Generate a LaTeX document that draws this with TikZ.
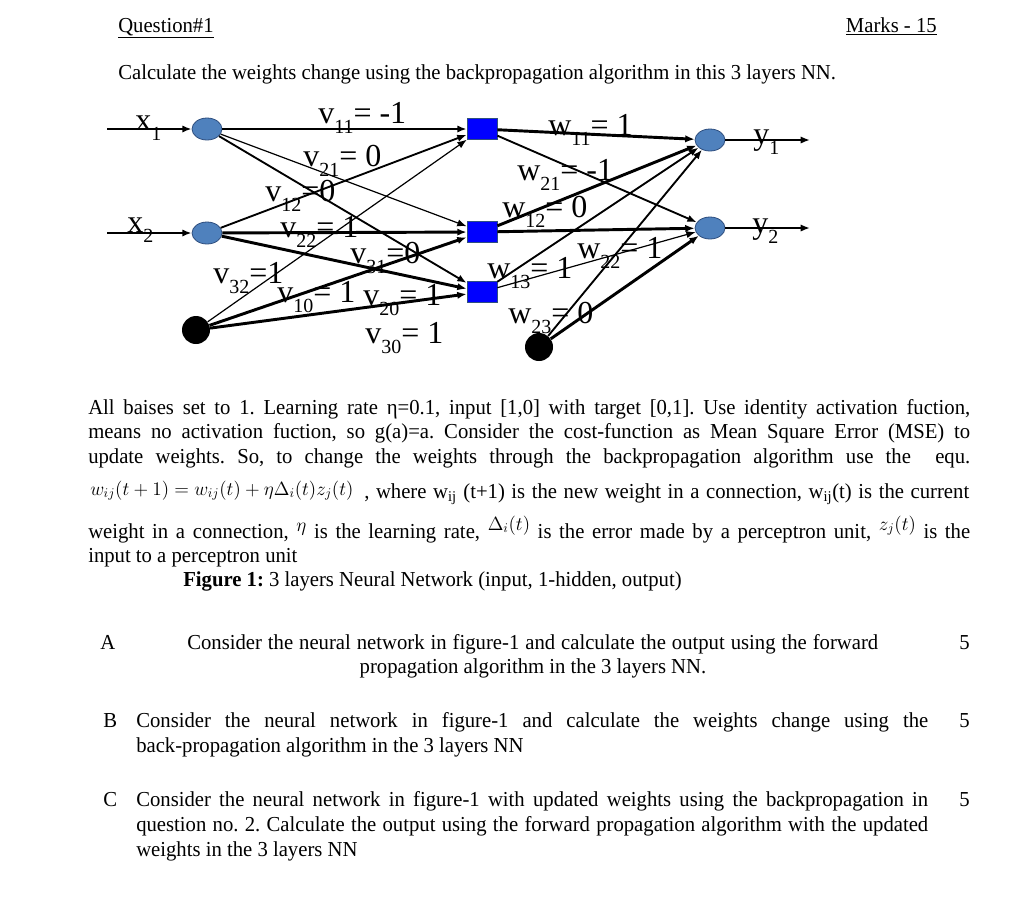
\documentclass[tikz,border=0pt]{standalone}
\usepackage{fontspec}
\setmainfont{Liberation Serif}[FakeStretch=0.97]
\newfontfamily\labfont{Liberation Serif}
\usetikzlibrary{shapes.geometric, arrows.meta}
\frenchspacing

\definecolor{unitblue}{HTML}{4F81BD}
\definecolor{unitedge}{HTML}{2F4F7F}

\newcommand{\sbs}[1]{\raisebox{-7.5pt}{\fontsize{15}{15}\selectfont #1}}
\newcommand{\jl}[2]{\makebox[#1][s]{#2}}

\tikzset{
  inunit/.style={ellipse, draw=unitedge, line width=0.6pt, fill=unitblue,
    minimum width=22.5pt, minimum height=16.5pt, inner sep=0pt},
  hidunit/.style={rectangle, draw=unitedge, line width=0.6pt, fill=blue,
    minimum width=22.5pt, minimum height=15.5pt, inner sep=0pt},
  biasunit/.style={circle, fill=black, minimum size=21pt, inner sep=0pt},
  conn/.style={-{Latex[length=7pt,width=5.5pt]}, line width=1.4pt},
  bold conn/.style={conn, line width=2.2pt},
  thin conn/.style={conn, line width=0.9pt},
  wlab/.style={font=\labfont\fontsize{24}{24}\selectfont, inner sep=0pt, anchor=base west},
  txt/.style={font=\fontsize{16}{19}\selectfont, inner sep=0pt, anchor=base west},
}

\begin{document}
\begin{tikzpicture}[x=0.75pt, y=-0.75pt]
\useasboundingbox[fill=white] (0,0) rectangle (1011,901);

%---header---
\node[txt] (qno) at (118,32) {\underline{Question\#1}};
\node[txt, anchor=base east] (marks) at (937,32) {\underline{Marks - 15}};
\node[txt] (task) at (118,79) {Calculate the weights change using the backpropagation algorithm in this 3 layers NN.};

%---units---
\node[inunit] (x1) at (207,129) {};
\node[inunit] (x2) at (207,233) {};
\node[biasunit] (b1) at (196,330) {};

\node[hidunit] (h1) at (482,129) {};
\node[hidunit] (h2) at (482,232) {};
\node[hidunit] (h3) at (482,292) {};

\node[inunit] (y1) at (710,140) {};
\node[inunit] (y2) at (710,228) {};
\node[biasunit] (b2) at (539,347) {};

\coordinate (in1) at (107,129);
\coordinate (in2) at (107,233);
\coordinate (out1) at (810,140);
\coordinate (out2) at (810,228);

%---input and output arrows---
\draw[conn] (in1) -- (x1);
\draw[conn] (in2) -- (x2);
\draw[conn] (y1) -- (out1);
\draw[conn] (y2) -- (out2);

%---input to hidden---
\draw[bold conn] (x1) -- (h1);
\draw[thin conn] (x1) -- (h2);
\draw[conn] (x1) -- (h3);
\draw[conn] (x2) -- (h1);
\draw[bold conn] (x2) -- (h2);
\draw[bold conn] (x2) -- (h3);
\draw[thin conn] (b1) -- (h1);
\draw[bold conn] (b1) -- (h2);
\draw[bold conn] (b1) -- (h3);

%---hidden to output---
\draw[bold conn] (h1) -- (y1);
\draw[conn] (h1) -- (y2);
\draw[bold conn] (h2) -- (y1);
\draw[bold conn] (h2) -- (y2);
\draw[conn] (h3) -- (y1);
\draw[thin conn] (h3) -- (y2);
\draw[conn] (b2) -- (y1);
\draw[bold conn] (b2) -- (y2);

%---labels---
\node[wlab] (lx1) at (135,130) {x\sbs{1}};
\node[wlab] (lx2) at (127,232) {x\sbs{2}};
\node[wlab] (ly1) at (753,144) {y\sbs{1}};
\node[wlab] (ly2) at (752,233) {y\sbs{2}};

\node[wlab] (v11) at (318,123) {v\sbs{11}= -1};
\node[wlab] (v21) at (303,166) {v\sbs{21}= 0};
\node[wlab] (v12) at (265,201) {v\sbs{12}=0};
\node[wlab] (v22) at (280,237) {v\sbs{22}= 1};
\node[wlab] (v31) at (350,263) {v\sbs{31}=0};
\node[wlab] (v32) at (213,283) {v\sbs{32}=1};
\node[wlab] (v10) at (277,302) {v\sbs{10}= 1};
\node[wlab] (v20) at (363,305) {v\sbs{20}= 1};
\node[wlab] (v30) at (365,343) {v\sbs{30}= 1};

\node[wlab] (w11) at (548,135) {w\sbs{11}= 1};
\node[wlab] (w21) at (517,180) {w\sbs{21}= -1};
\node[wlab] (w12) at (502,217) {w\sbs{12}= 0};
\node[wlab] (w13) at (487,278) {w\sbs{13}= 1};
\node[wlab] (w22) at (577,258) {w\sbs{22}= 1};
\node[wlab] (w23) at (508,323) {w\sbs{23}= 0};

%---description---
\node[txt] (p1) at (88,414) {\jl{661.5pt}{All baises set to 1. Learning rate η=0.1, input [1,0] with target [0,1]. Use identity activation fuction,}};
\node[txt] (p2) at (88,438) {\jl{661.5pt}{means no activation fuction, so g(a)=a. Consider the cost-function as Mean Square Error (MSE) to}};
\node[txt] (p3) at (88,463) {\jl{661.5pt}{update weights. So, to change the weights through the backpropagation algorithm use the \ equ.}};
\node[txt] (eq) at (90,495) {\fontsize{14.5}{14.5}\selectfont$w_{ij}(t+1)=w_{ij}(t)+\eta\Delta_i(t)z_j(t)$};
\node[txt] (p4) at (364,498) {\jl{453.75pt}{, where w\textsubscript{ij} (t+1) is the new weight in a connection, w\textsubscript{ij}(t) is the current}};
\node[txt] (p5) at (88,538) {\jl{661.5pt}{weight in a connection, \raisebox{5pt}{\fontsize{14}{14}\selectfont$\eta$} is the learning rate, \raisebox{6pt}{\fontsize{14}{14}\selectfont$\Delta_i(t)$} is the error made by a perceptron unit, \raisebox{6pt}{\fontsize{14}{14}\selectfont$z_j(t)$} is the}};
\node[txt] (p6) at (88,562) {input to a perceptron unit};
\node[txt] (cap) at (183,586) {\textbf{Figure 1:} 3 layers Neural Network (input, 1-hidden, output)};

%---questions---
\node[txt] (qa) at (100,649) {A};
\node[txt] (qa1) at (187,649) {\jl{518.25pt}{Consider the neural network in figure-1 and calculate the output using the forward}};
\node[txt, anchor=base] (qa2) at (533,673) {propagation algorithm in the 3 layers NN.};
\node[txt, anchor=base east] (ma) at (970,649) {5};

\node[txt] (qb) at (103,727) {B};
\node[txt] (qb1) at (136,727) {\jl{594pt}{Consider the neural network in figure-1 and calculate the weights change using the}};
\node[txt] (qb2) at (136,752) {back-propagation algorithm in the 3 layers NN};
\node[txt, anchor=base east] (mb) at (970,727) {5};

\node[txt] (qc) at (103,806) {C};
\node[txt] (qc1) at (136,806) {\jl{594pt}{Consider the neural network in figure-1 with updated weights using the backpropagation in}};
\node[txt] (qc2) at (136,831) {\jl{594pt}{question no. 2. Calculate the output using the forward propagation algorithm with the updated}};
\node[txt] (qc3) at (136,856) {weights in the 3 layers NN};
\node[txt, anchor=base east] (mc) at (970,806) {5};

\end{tikzpicture}
\end{document}
